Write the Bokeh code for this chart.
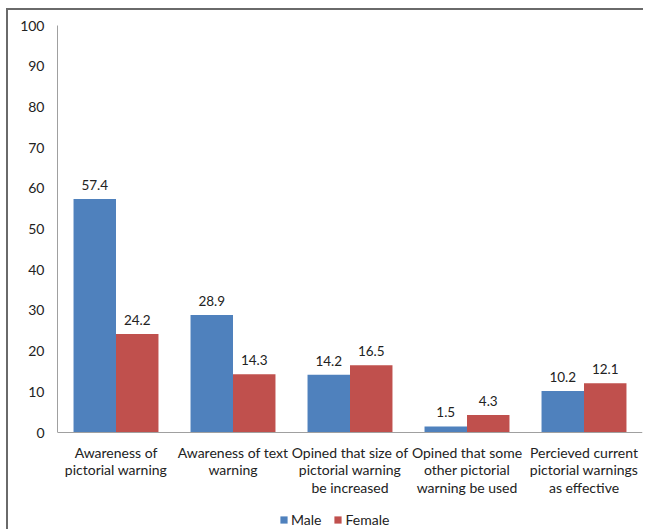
from bokeh.plotting import figure
from bokeh.models import ColumnDataSource, FactorRange, Legend, LegendItem, FixedTicker, LabelSet
from bokeh.core.properties import value
from bokeh.transform import dodge
from bokeh.embed import file_html
from bokeh.resources import INLINE

categories = [
    "Awareness of\npictorial warning",
    "Awareness of text\nwarning",
    "Opined that size of\npictorial warning\nbe increased",
    "Opined that some\nother pictorial\nwarning be used",
    "Percieved current\npictorial warnings\nas effective",
]
male = [57.4, 28.9, 14.2, 1.5, 10.2]
female = [24.2, 14.3, 16.5, 4.3, 12.1]
y_ticks = [0, 10, 20, 30, 40, 50, 60, 70, 80, 90, 100]

FONT = "Lato"
src = ColumnDataSource(dict(
    cat=categories, male=male, female=female,
    male_lbl=[f"{v:.1f}" for v in male],
    female_lbl=[f"{v:.1f}" for v in female],
))

# frame runs down to the bottom of the page; the 0..100 scale occupies its upper part
p = figure(x_range=FactorRange(*categories), y_range=(-24.32, 100),
           width=637, height=521, output_backend="svg", toolbar_location=None,
           min_border_left=49, min_border_top=15, min_border_bottom=0, min_border_right=3)
p.styles = {"margin-left": "6px", "margin-top": "8px",
            "border-left": "2px solid #6a6a6a", "border-top": "2px solid #6a6a6a"}
p.x_range.range_padding = 0
p.outline_line_color = None
p.grid.visible = False

bw = 0.363
r_m = p.vbar(x=dodge("cat", -bw / 2, range=p.x_range), top="male", width=bw, source=src,
             fill_color="#4F81BD", line_color=None)
r_f = p.vbar(x=dodge("cat", bw / 2, range=p.x_range), top="female", width=bw, source=src,
             fill_color="#C0504D", line_color=None)

for col, off in (("male", -bw / 2), ("female", bw / 2)):
    p.add_layout(LabelSet(x=dodge("cat", off, range=p.x_range), y=col, text=col + "_lbl",
                          source=src, text_align="center", text_baseline="bottom", y_offset=9,
                          text_font=value(FONT), text_font_size=value("13.5px"),
                          text_color="#222222"))

p.yaxis.ticker = FixedTicker(ticks=y_ticks)
p.yaxis.bounds = (0, 100)
p.yaxis.major_tick_line_color = None
p.yaxis.minor_tick_line_color = None
p.yaxis.axis_line_color = "#a0a0a0"
p.yaxis.major_label_text_font = FONT
p.yaxis.major_label_text_font_size = "14px"
p.yaxis.major_label_text_color = "#222222"
p.yaxis.major_label_standoff = 7

p.xaxis.fixed_location = 0
p.xaxis.major_tick_line_color = None
p.xaxis.axis_line_color = "#a0a0a0"
p.xaxis.major_label_text_font = FONT
p.xaxis.major_label_text_font_size = "14px"
p.xaxis.major_label_text_color = "#222222"
p.xaxis.major_label_standoff = 5
p.xaxis.major_label_text_line_height = 1.05

legend = Legend(items=[LegendItem(label="Male", renderers=[r_m]),
                       LegendItem(label="Female", renderers=[r_f])],
                orientation="horizontal", location=(222, 3),
                label_text_font=FONT, label_text_font_size="14px", label_text_color="#222222",
                glyph_width=9, glyph_height=9, label_height=16, spacing=12, label_standoff=3,
                background_fill_alpha=0, border_line_color=None, padding=0, margin=0)
p.add_layout(legend, "center")

open("out.html", "w").write(file_html(p, INLINE))
